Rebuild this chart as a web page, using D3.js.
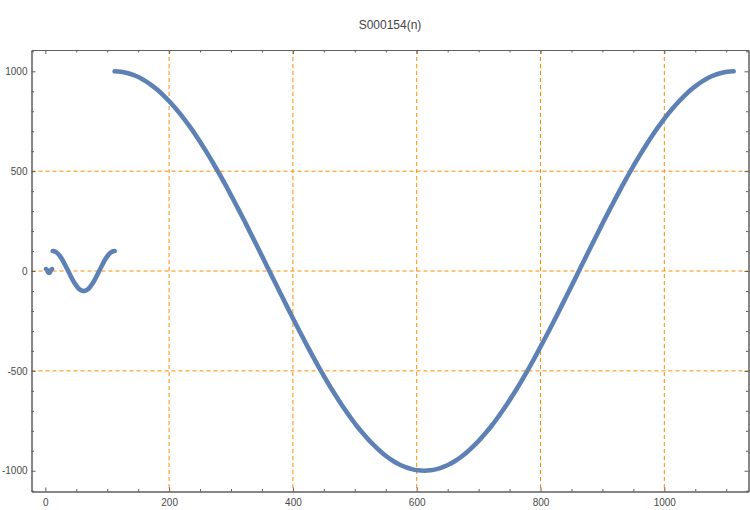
<!DOCTYPE html>
<html>
<head>
<meta charset="utf-8">
<script src="https://cdn.jsdelivr.net/npm/d3@7"></script>
<style>
  html, body { margin: 0; padding: 0; background: #fff; }
  svg { display: block; }
  text { font-family: "Liberation Sans", Arial, sans-serif; }
</style>
</head>
<body>
<svg id="chart" width="750" height="510"></svg>
<script>
// ---- data ----
const title = "S000154(n)";
const smallN = [1, 2, 3, 4, 5, 6, 7, 8, 9, 10, 11];
const smallV = [10, 8, 3, -3, -8, -10, -8, -3, 3, 8, 10];
const midN = [12, 16, 20, 24, 28, 32, 36, 40, 44, 48, 52, 56, 60, 64, 68, 72, 76, 80, 84, 88, 92, 96, 100, 104, 108, 112];
const midV = [100, 97, 88, 73, 54, 31, 6, -19, -43, -64, -81, -93, -99, -99, -93, -81, -64, -43, -19, 6, 31, 54, 73, 88, 97, 100];
const bigN = [112, 122, 132, 142, 152, 162, 172, 182, 192, 202, 212, 222, 232, 242, 252, 262, 272, 282, 292, 302,
  312, 322, 332, 342, 352, 362, 372, 382, 392, 402, 412, 422, 432, 442, 452, 462, 472, 482, 492, 502,
  512, 522, 532, 542, 552, 562, 572, 582, 592, 602, 612, 622, 632, 642, 652, 662, 672, 682, 692, 702,
  712, 722, 732, 742, 752, 762, 772, 782, 792, 802, 812, 822, 832, 842, 852, 862, 872, 882, 892, 902,
  912, 922, 932, 942, 952, 962, 972, 982, 992, 1002, 1012, 1022, 1032, 1042, 1052, 1062, 1072, 1082, 1092, 1102, 1112];
const bigV = [1000, 998, 992, 982, 969, 951, 930, 905, 876, 844, 809, 771, 729, 685, 637, 588, 536, 482, 426, 368,
  309, 249, 187, 125, 63, 0, -63, -125, -187, -249, -309, -368, -426, -482, -536, -588, -637, -685, -729, -771,
  -809, -844, -876, -905, -930, -951, -969, -982, -992, -998, -1000, -998, -992, -982, -969, -951, -930, -905, -876, -844,
  -809, -771, -729, -685, -637, -588, -536, -482, -426, -368, -309, -249, -187, -125, -63, 0, 63, 125, 187, 249,
  309, 368, 426, 482, 536, 588, 637, 685, 729, 771, 809, 844, 876, 905, 930, 951, 969, 982, 992, 998, 1000];
const xTicks = [0, 200, 400, 600, 800, 1000];
const yTicks = [-1000, -500, 0, 500, 1000];
const xGrid = [200, 400, 600, 800, 1000];
const yGrid = [-500, 0, 500];

(function () {
  // ---- layout ----
  const svg = d3.select("#chart");
  const L = 31.5, R = 748.5, T = 50, B = 491.5;
  const x = d3.scaleLinear().domain([-22.3, 1136]).range([L, R]);
  const y = d3.scaleLinear().domain([-1104, 1106.7]).range([B, T]);

  const frameColor = "#5f5f5f";
  const labelColor = "#4a4a4a";
  const gridColor = "#ff8c00";
  const lineColor = "#5e81b5";

  // grid
  svg.append("g").selectAll("line").data(xGrid).join("line")
    .attr("x1", d => x(d)).attr("x2", d => x(d))
    .attr("y1", T).attr("y2", B)
    .attr("stroke", gridColor).attr("stroke-width", 1)
    .attr("stroke-dasharray", "4,3");
  svg.append("g").selectAll("line").data(yGrid).join("line")
    .attr("y1", d => y(d)).attr("y2", d => y(d))
    .attr("x1", L).attr("x2", R)
    .attr("stroke", gridColor).attr("stroke-width", 1)
    .attr("stroke-dasharray", "4,3");

  // data
  const line = d3.line().x(d => x(d[0])).y(d => y(d[1])).curve(d3.curveCatmullRom);
  const segs = [
    d3.zip(smallN, smallV),
    d3.zip(midN, midV),
    d3.zip(bigN, bigV)
  ];
  svg.append("g").selectAll("path").data(segs).join("path")
    .attr("d", line)
    .attr("fill", "none")
    .attr("stroke", lineColor)
    .attr("stroke-width", 4.6)
    .attr("stroke-linecap", "round")
    .attr("stroke-linejoin", "round");

  // frame axes with inward ticks
  const xMinor = d3.range(0, 1101, 50).filter(v => !xTicks.includes(v));
  const yMinor = d3.range(-1100, 1101, 100).filter(v => !yTicks.includes(v));

  const axB = d3.axisBottom(x).tickValues(xTicks).tickSizeInner(-4).tickSizeOuter(0).tickPadding(7).tickFormat(d3.format("d"));
  svg.append("g").attr("transform", `translate(0,${B})`).call(axB);
  const axT = d3.axisTop(x).tickValues(xTicks).tickSizeInner(-4).tickSizeOuter(0).tickFormat("");
  svg.append("g").attr("transform", `translate(0,${T})`).call(axT);
  const axL = d3.axisLeft(y).tickValues(yTicks).tickSizeInner(-4).tickSizeOuter(0).tickPadding(4)
    .tickFormat(d => String(d));
  svg.append("g").attr("transform", `translate(${L},0)`).call(axL);
  const axR = d3.axisRight(y).tickValues(yTicks).tickSizeInner(-4).tickSizeOuter(0).tickFormat("");
  svg.append("g").attr("transform", `translate(${R},0)`).call(axR);

  // minor ticks
  svg.append("g").attr("transform", `translate(0,${B})`).call(d3.axisBottom(x).tickValues(xMinor).tickSizeInner(-2.5).tickSizeOuter(0).tickFormat(""));
  svg.append("g").attr("transform", `translate(0,${T})`).call(d3.axisTop(x).tickValues(xMinor).tickSizeInner(-2.5).tickSizeOuter(0).tickFormat(""));
  svg.append("g").attr("transform", `translate(${L},0)`).call(d3.axisLeft(y).tickValues(yMinor).tickSizeInner(-2.5).tickSizeOuter(0).tickFormat(""));
  svg.append("g").attr("transform", `translate(${R},0)`).call(d3.axisRight(y).tickValues(yMinor).tickSizeInner(-2.5).tickSizeOuter(0).tickFormat(""));

  svg.selectAll(".domain").attr("stroke", frameColor).attr("stroke-width", 1);
  svg.selectAll(".tick line").attr("stroke", frameColor).attr("stroke-width", 1);
  svg.selectAll(".tick text").attr("fill", labelColor).attr("font-size", 10)
    .style("font-family", '"Liberation Sans", Arial, sans-serif');

  // title
  svg.append("text")
    .attr("x", 390).attr("y", 29)
    .attr("text-anchor", "middle")
    .attr("font-size", 12)
    .attr("fill", "#444")
    .text(title);
})();
</script>
</body>
</html>
